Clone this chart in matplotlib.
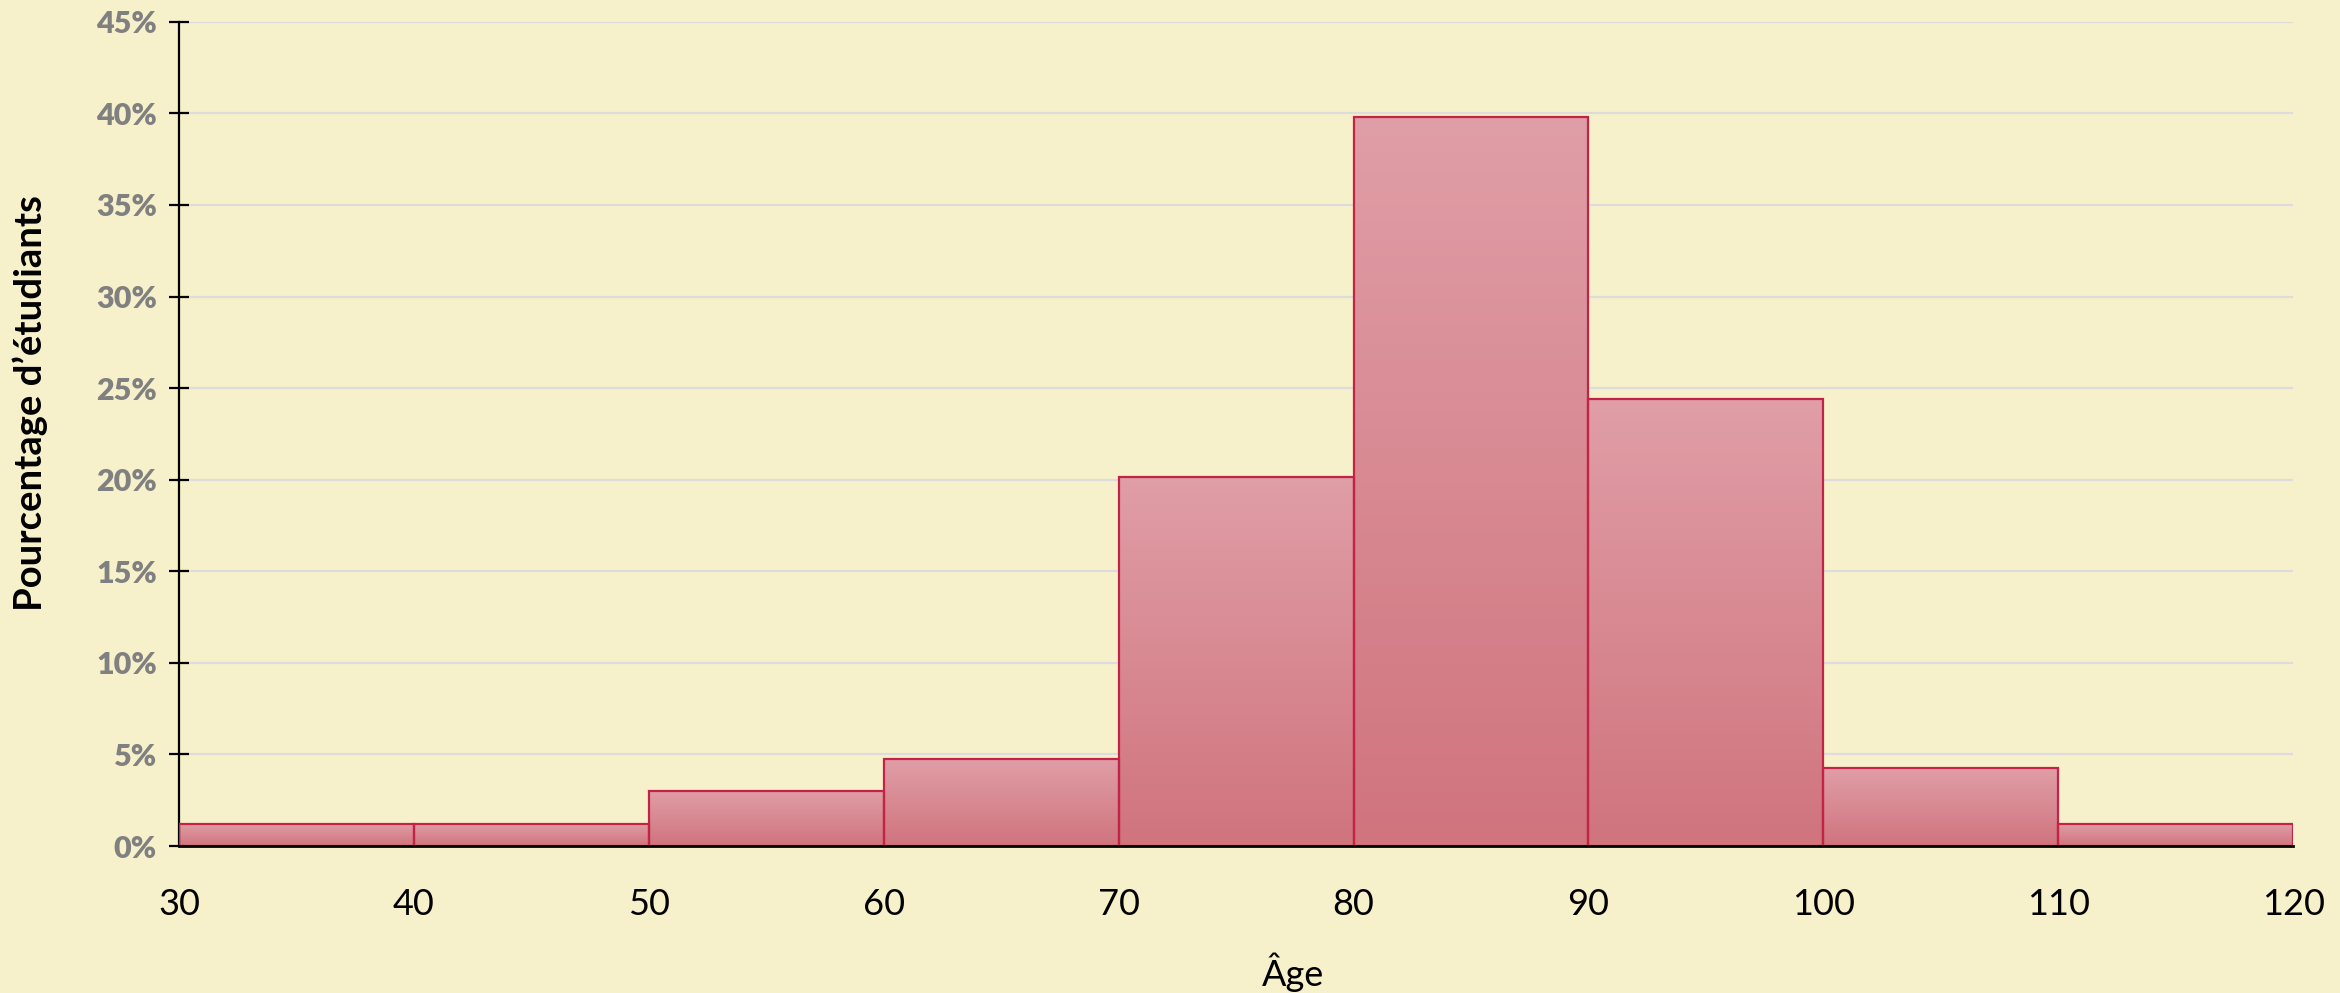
import numpy as np
import matplotlib
matplotlib.use("Agg")
import matplotlib.pyplot as plt
from matplotlib.colors import LinearSegmentedColormap
from matplotlib.ticker import FuncFormatter

# data: age bins (left edges) and share of students in each (%)
bin_edges = [30, 40, 50, 60, 70, 80, 90, 100, 110, 120]
percentages = [1.22, 1.22, 3.02, 4.73, 20.15, 39.8, 24.39, 4.24, 1.22]
y_ticks = [0, 5, 10, 15, 20, 25, 30, 35, 40, 45]
x_ticks = [30, 40, 50, 60, 70, 80, 90, 100, 110, 120]

bg = "#f7f1cb"
edge = "#c22347"
top_col = "#e09ea6"
bottom_col = "#d0747e"

plt.rcParams['font.family'] = ['Lato', 'DejaVu Sans']

fig = plt.figure(figsize=(23.4, 9.93), dpi=100, facecolor=bg)
ax = fig.add_axes([0.0765, 0.148, 0.9035, 0.830])
ax.set_facecolor(bg)

lefts = bin_edges[:-1]
widths = np.diff(bin_edges)

# plain bars first (gives the clip shapes)
bars = ax.bar(lefts, percentages, width=widths, align='edge',
              color=bottom_col, edgecolor='none', zorder=2)

# vertical gradient inside each bar
cmap = LinearSegmentedColormap.from_list("grad", [bottom_col, top_col])
grad = np.linspace(0, 1, 256).reshape(-1, 1)
for b in bars:
    x0, y0 = b.get_x(), b.get_y()
    w, h = b.get_width(), b.get_height()
    im = ax.imshow(grad, cmap=cmap, origin='lower', aspect='auto',
                   extent=[x0, x0 + w, y0, y0 + h], zorder=2.5,
                   interpolation='bilinear')
    im.set_clip_path(b)

# outlines on top
ax.bar(lefts, percentages, width=widths, align='edge',
       facecolor='none', edgecolor=edge, linewidth=1.6, zorder=3)

ax.set_xlim(30, 120)
ax.set_ylim(0, 45)
ax.set_xticks(x_ticks)
ax.set_yticks(y_ticks)
ax.yaxis.set_major_formatter(FuncFormatter(lambda v, p: f"{int(v)}%"))

ax.grid(axis='y', color='#dcdcdc', linewidth=1.6, zorder=0)
ax.set_axisbelow(True)

for s in ['top', 'right']:
    ax.spines[s].set_visible(False)
ax.spines['left'].set_linewidth(1.6)
ax.spines['bottom'].set_linewidth(2.0)
ax.spines['bottom'].set_zorder(4)

ax.tick_params(axis='y', direction='inout', length=14, width=1.6,
               pad=9, labelsize=22, labelcolor='#808080')
for lbl in ax.get_yticklabels():
    lbl.set_fontweight('heavy')
ax.tick_params(axis='x', length=0, pad=30, labelsize=26, labelcolor='black')

ax.set_xlabel("Âge", fontsize=26, va='center')
ax.xaxis.set_label_coords(0.527, -0.153)
ax.set_ylabel("Pourcentage d’étudiants", fontsize=27.5, fontweight='bold', va='center')
ax.yaxis.set_label_coords(-0.0705, 0.538)

fig.savefig("out.png", dpi=100, facecolor=bg)
